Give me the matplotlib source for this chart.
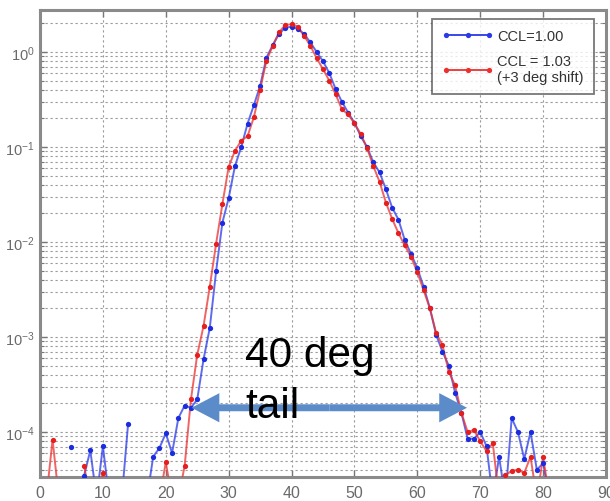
import numpy as np
import matplotlib
matplotlib.use('Agg')
import matplotlib.pyplot as plt
from matplotlib.patches import FancyArrowPatch
from matplotlib.ticker import FixedLocator, LogLocator, NullFormatter


nan = np.nan

# angle bins (deg) and normalised counts
angle = np.arange(0, 82)

ccl_100 = [
    nan, nan, nan, nan, nan, 7.0e-5, nan, 3.45e-5, 6.4e-5, 2.0e-5,
    7.1e-5, 2.0e-5, nan, 2.0e-5, 1.2e-4, nan, nan, 2.0e-5, 5.5e-5, 6.8e-5,
    9.7e-5, 6.0e-5, 1.4e-4, 1.9e-4, 1.8e-4, 2.2e-4, 5.8e-4, 1.25e-3, 4.9e-3, 0.016,
    0.029, 0.063, 0.10, 0.176, 0.275, 0.44, 0.87, 1.18, 1.55, 1.8,
    1.85, 1.75, 1.55, 1.26, 1.0, 0.8, 0.6, 0.41, 0.30, 0.23,
    0.18, 0.13, 0.10, 0.069, 0.054, 0.036, 0.023, 0.0172, 0.0105, 0.0075,
    0.0053, 0.0034, 0.0020, 0.00105, 7.0e-4, 5.0e-4, 2.6e-4, 1.6e-4, 8.5e-5, 8.5e-5,
    1.0e-4, 7.1e-5, 2.0e-5, 5.5e-5, 2.0e-5, 1.4e-4, 1.0e-4, 5.2e-5, 1.0e-4, 4.0e-5,
    4.7e-5, 2.0e-5,
]

ccl_103 = [
    nan, 2.0e-5, 8.3e-5, 2.0e-5, nan, nan, nan, 4.4e-5, 2.0e-5, 2.0e-5,
    3.7e-5, 2.0e-5, nan, nan, nan, nan, nan, nan, nan, 2.0e-5,
    4.8e-5, 2.0e-5, 2.0e-5, 4.4e-5, 2.2e-4, 6.5e-4, 1.3e-3, 3.4e-3, 9.6e-3, 0.025,
    0.062, 0.091, 0.117, 0.13, 0.205, 0.40, 0.81, 1.16, 1.61, 1.93,
    1.96, 1.85, 1.48, 1.16, 0.86, 0.66, 0.50, 0.36, 0.25, 0.22,
    0.178, 0.137, 0.098, 0.063, 0.043, 0.026, 0.0175, 0.0124, 0.0092, 0.0070,
    0.0048, 0.0031, 0.0020, 0.0011, 8.2e-4, 4.3e-4, 3.1e-4, 1.6e-4, 1.0e-4, 1.05e-4,
    8.0e-5, 6.3e-5, 7.6e-5, 2.0e-5, 3.5e-5, 3.9e-5, 4.0e-5, 3.7e-5, 5.5e-5, 2.0e-5,
    5.5e-5, 2.0e-5,
]

labels = ['CCL=1.00', 'CCL = 1.03\n(+3 deg shift)']
x_ticks = list(range(0, 91, 10))
y_ticks = [1e-4, 1e-3, 1e-2, 1e-1, 1e0]

# tail annotation: arrow ends (deg) and height
tail_start = 24.1
tail_end = 67.9
tail_level = 1.8e-4


plt.rcParams['font.family'] = ['Liberation Sans', 'DejaVu Sans']
plt.rcParams['mathtext.default'] = 'regular'

fig = plt.figure(figsize=(6.1, 5.02), dpi=100)
ax = fig.add_axes([40 / 610, 24 / 502, 566 / 610, 467 / 502])

ax.plot(angle, ccl_100, '-', color='#2a3ae8', lw=1.4, alpha=0.75, zorder=3)
ax.plot(angle, ccl_100, 'o', color='#1a2be0', ms=3.8, mew=0, zorder=4)
ax.plot(angle, ccl_103, '-', color='#ec3030', lw=1.4, alpha=0.75, zorder=3)
ax.plot(angle, ccl_103, 'o', color='#e61e1e', ms=3.8, mew=0, zorder=4)

ax.set_yscale('log')
ax.set_xlim(0, 90)
ax.set_ylim(3.36e-5, 2.77)

ax.xaxis.set_major_locator(FixedLocator(x_ticks))
ax.yaxis.set_major_locator(FixedLocator(y_ticks))
ax.yaxis.set_minor_locator(LogLocator(base=10, subs=np.arange(2, 10)))
ax.yaxis.set_minor_formatter(NullFormatter())
ax.set_yticklabels([r'$10^{%d}$' % int(np.log10(v)) for v in y_ticks])

ax.grid(True, which='major', ls=(0, (2, 2.5)), color='#9a9a9a', lw=0.8)
ax.grid(True, which='minor', axis='y', ls=(0, (2, 2.5)), color='#9a9a9a', lw=0.8)

ax.tick_params(which='both', direction='in', top=True, right=True,
               colors='#777777', labelcolor='#6a6a6a')
ax.tick_params(which='major', length=5, width=1)
ax.tick_params(which='minor', length=3, width=0.8)
ax.tick_params(axis='x', pad=6, labelsize=11.5)
ax.tick_params(axis='y', pad=4, labelsize=10.5)

for spine in ax.spines.values():
    spine.set_color('#8a8a8a')
    spine.set_linewidth(2.2)

# legend handles with marker in the middle of the line
h1, = ax.plot([], [], '-', color='#2a3ae8', lw=1.3, marker='o', ms=3.8, mew=0, markevery=[1])
h2, = ax.plot([], [], '-', color='#ec3030', lw=1.3, marker='o', ms=3.8, mew=0, markevery=[1])
leg = ax.legend([h1, h2], labels, loc='upper right', bbox_to_anchor=(0.979, 0.981),
                borderaxespad=0, fancybox=False, frameon=True, fontsize=10.5,
                handlelength=3.5, handletextpad=0.3, labelspacing=0.75,
                borderpad=0.7, numpoints=3, labelcolor='#333333')
leg.get_frame().set_edgecolor('#555555')
leg.get_frame().set_linewidth(1.3)
leg.set_zorder(10)

# "40 deg tail" annotation
mid = 0.5 * (tail_start + tail_end)
for end in (tail_start, tail_end):
    arrow = FancyArrowPatch((mid, tail_level), (end, tail_level),
                            arrowstyle='simple,head_length=20,head_width=21,tail_width=5',
                            mutation_scale=1, shrinkA=0, shrinkB=0,
                            color='#5b8bc8', lw=0, zorder=6)
    ax.add_patch(arrow)

ax.text(32.6, 4.95e-4, '40 deg', fontsize=30.5, color='black', va='baseline', zorder=7)
ax.text(32.6, 1.44e-4, 'tail', fontsize=30.5, color='black', va='baseline', zorder=7)

fig.savefig('out.png', dpi=100)
